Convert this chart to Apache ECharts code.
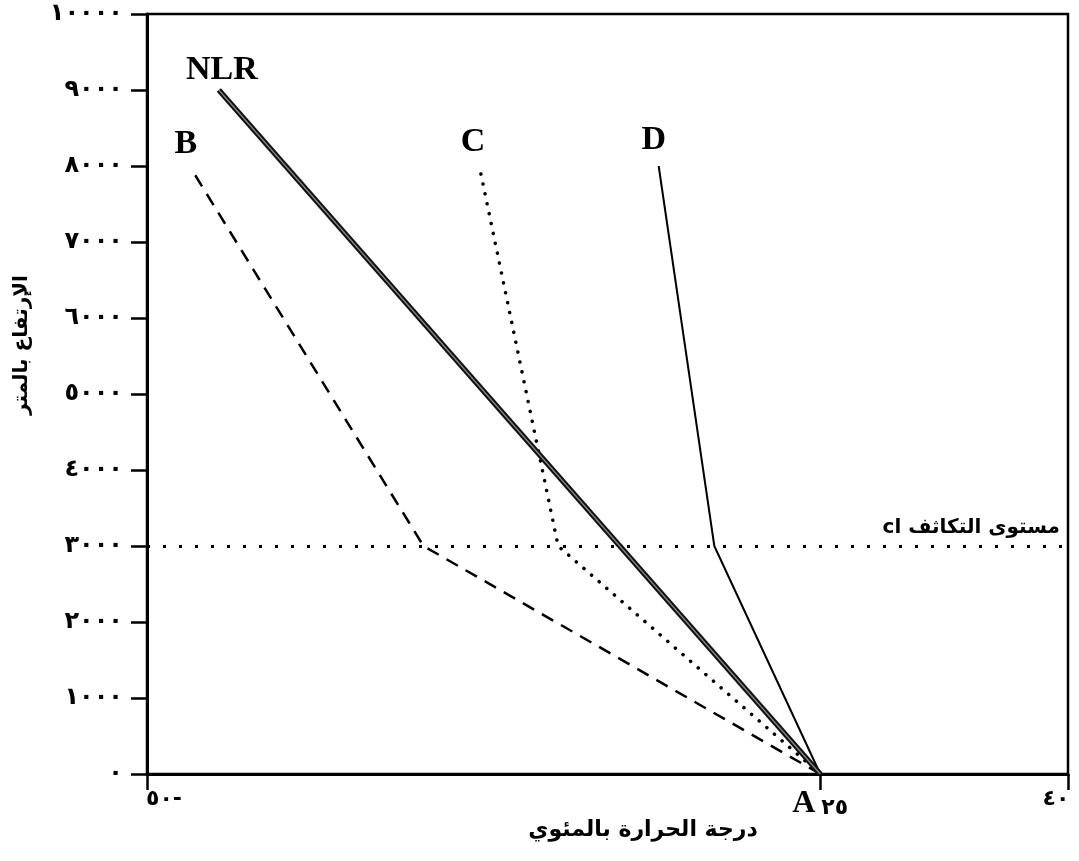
<!DOCTYPE html>
<html>
<head>
<meta charset="utf-8">
<script src="https://cdn.jsdelivr.net/npm/echarts@6/dist/echarts.min.js"></script>
<style>
  html, body { margin: 0; padding: 0; background: #fff; }
  #chart { width: 1079px; height: 861px; }
</style>
</head>
<body>
<div id="chart"></div>
<script>
// [temperature °C, height m] — all curves start at A (25 °C, ground)
const nlrPoints = [[25, 0], [-42, 9000]];
const bPoints = [[25, 0], [-19.2, 3000], [-45, 7950]];
const cPoints = [[25, 0], [-4.2, 3000], [-12.9, 7950]];
const dPoints = [[25, 0], [13.2, 3000], [7, 8000]];
const condensationLevel = 3000;

// height ticks in Arabic-Indic digits
const yTickLabels = ['٠', '١٠٠٠', '٢٠٠٠', '٣٠٠٠', '٤٠٠٠', '٥٠٠٠', '٦٠٠٠', '٧٠٠٠', '٨٠٠٠', '٩٠٠٠', '١٠٠٠٠'];
// the source axis is not to scale: its right edge (labelled 40) falls at 52.6 on the -50..25 scale
const xTickValues = [-50, 25, 52.6];
const xTickLabels = ['٥٠-', 'A٢٥', '٤٠'];

const serif = 'Liberation Serif';
const arabic = 'DejaVu Sans';

const curveLabel = (name, pts, dx, dy) => ({
  type: 'scatter',
  data: [pts[pts.length - 1]],
  symbolSize: 1,
  itemStyle: { color: 'rgba(0,0,0,0)', opacity: 1 },
  silent: true,
  label: {
    show: true,
    formatter: name,
    position: 'top',
    distance: dy,
    offset: [dx, 0],
    color: '#000',
    opacity: 1,
    fontFamily: serif,
    fontWeight: 'bold',
    fontSize: 34
  },
  z: 5
});

const chart = echarts.init(document.getElementById('chart'));
chart.setOption({
  animation: false,
  backgroundColor: '#fff',
  grid: {
    left: 147, right: 11, top: 14, bottom: 87,
    show: true, borderColor: '#000', borderWidth: 2.5
  },
  xAxis: {
    type: 'value',
    min: -50,
    max: 52.6,
    axisLine: { show: true, onZero: false, lineStyle: { color: '#000', width: 3 } },
    axisTick: { show: true, inside: false, length: 16, customValues: xTickValues, lineStyle: { color: '#000', width: 2.5 } },
    splitLine: { show: false },
    axisLabel: {
      customValues: xTickValues,
      margin: 14,
      formatter: function (v) {
        const i = xTickValues.indexOf(v);
        const lab = xTickLabels[i];
        if (i === 1) return '{a|A}{n|' + lab.slice(1) + '}';
        if (i === 0) return '{l|' + lab + '}';
        return '{r|' + lab + '}';
      },
      rich: {
        a: { fontFamily: serif, fontWeight: 'bold', fontSize: 32, color: '#000' },
        n: { fontFamily: arabic, fontWeight: 'bold', fontSize: 22, color: '#000', padding: [8, 0, 0, 6] },
        l: { fontFamily: arabic, fontWeight: 'bold', fontSize: 22, color: '#000', padding: [0, 0, 0, 34] },
        r: { fontFamily: arabic, fontWeight: 'bold', fontSize: 22, color: '#000', padding: [0, 24, 0, 0] }
      }
    }
  },
  yAxis: {
    type: 'value',
    min: 0,
    max: 10000,
    interval: 1000,
    axisLine: { show: true, onZero: false, lineStyle: { color: '#000', width: 3 } },
    axisTick: { show: true, inside: false, length: 16, lineStyle: { color: '#000', width: 2.5 } },
    splitLine: { show: false },
    axisLabel: {
      margin: 24,
      formatter: v => yTickLabels[Math.round(v / 1000)],
      fontFamily: arabic,
      fontWeight: 'bold',
      fontSize: 24,
      color: '#000'
    }
  },
  graphic: [
    {
      type: 'text',
      x: 22, y: 345,
      rotation: Math.PI / 2,
      style: {
        text: 'الإرتفاع بالمتر',
        fontFamily: arabic, fontWeight: 'bold', fontSize: 20,
        fill: '#000', align: 'center', verticalAlign: 'middle'
      }
    },
    {
      type: 'text',
      x: 643, y: 830,
      style: {
        text: 'درجة الحرارة بالمئوي',
        fontFamily: arabic, fontWeight: 'bold', fontSize: 22,
        fill: '#000', align: 'center', verticalAlign: 'middle'
      }
    }
  ],
  series: [
    {
      name: 'B', type: 'line', data: bPoints, showSymbol: false, silent: true,
      lineStyle: { color: '#000', width: 2.5, type: [13, 9] }
    },
    {
      name: 'C', type: 'line', data: cPoints, showSymbol: false, silent: true,
      lineStyle: { color: '#000', width: 3.5, type: [0.1, 10], cap: 'round' }
    },
    {
      name: 'D', type: 'line', data: dPoints, showSymbol: false, silent: true,
      lineStyle: { color: '#000', width: 2 },
      markLine: {
        silent: true,
        symbol: 'none',
        lineStyle: { color: '#000', width: 3, type: [3, 13] },
        label: {
          show: true,
          position: 'insideEndTop',
          formatter: 'cl مستوى التكاثف',
          fontFamily: arabic, fontWeight: 'bold', fontSize: 20,
          color: '#000', distance: [8, 8]
        },
        data: [{ yAxis: condensationLevel }]
      }
    },
    {
      name: 'NLR', type: 'line', data: nlrPoints, showSymbol: false, silent: true,
      lineStyle: { color: '#111', width: 5.5 }, z: 3
    },
    {
      name: 'NLR core', type: 'line', data: nlrPoints, showSymbol: false, silent: true,
      lineStyle: { color: '#888', width: 1.2 }, z: 4
    },
    curveLabel('NLR', nlrPoints, 3, 2),
    curveLabel('B', bPoints, -6, 8),
    curveLabel('C', cPoints, -7, 10),
    curveLabel('D', dPoints, -5, 8)
  ]
});
</script>
</body>
</html>
